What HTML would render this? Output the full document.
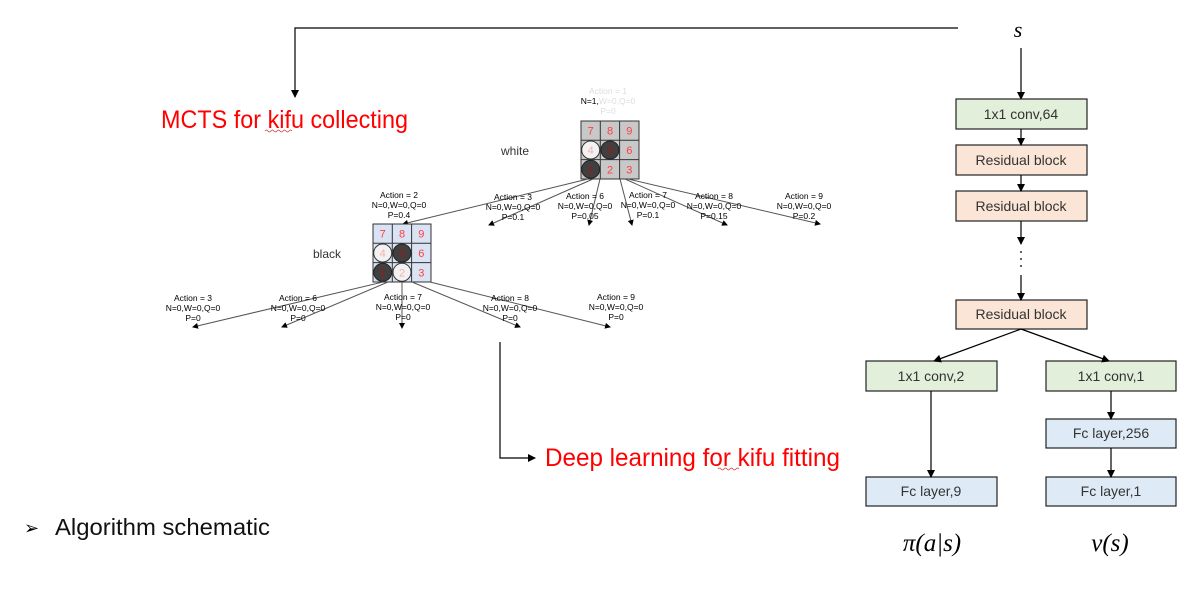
<!DOCTYPE html>
<html><head><meta charset="utf-8"><style>
html,body{margin:0;padding:0;background:#fff;}
svg{display:block;font-family:"Liberation Sans",sans-serif;}
</style></head><body>
<svg width="1201" height="597" viewBox="0 0 1201 597" xmlns="http://www.w3.org/2000/svg">
<defs>
<marker id="a" markerWidth="8" markerHeight="8" refX="7" refY="4" orient="auto" markerUnits="userSpaceOnUse"><path d="M0,0 L8,4 L0,8 z" fill="#000"/></marker>
<marker id="s" markerWidth="6" markerHeight="6" refX="5" refY="3" orient="auto" markerUnits="userSpaceOnUse"><path d="M0,0 L6,3 L0,6 z" fill="#000"/></marker>
</defs>

<polyline points="958,28 295,28 295,97" fill="none" stroke="#000" stroke-width="1.2" marker-end="url(#a)"/>
<text x="1018" y="37" font-family="Liberation Serif,serif" font-style="italic" font-size="22" text-anchor="middle">s</text>
<line x1="1021" y1="48" x2="1021" y2="99" stroke="#000" stroke-width="1.2" marker-end="url(#a)"/>

<text x="161" y="128" fill="#ff0000" font-size="25" textLength="247" lengthAdjust="spacingAndGlyphs">MCTS for kifu collecting</text>
<path d="M265,131 q1.5,-2 3,0 t3,0 t3,0 t3,0 t3,0 t3,0 t3,0 t3,0 t3,0" fill="none" stroke="#e04040" stroke-width="0.8"/>

<g transform="translate(581,121)">
<rect x="0" y="0" width="58" height="58" fill="#c8c8c8" stroke="#333"/>
<path d="M19.3,0V58M38.6,0V58M0,19.3H58M0,38.6H58" stroke="#333" stroke-width="1"/>
<circle cx="9.7" cy="29" r="9" fill="#f2f2f2" stroke="#333"/>
<circle cx="29" cy="29" r="9" fill="#404040" stroke="#222"/>
<circle cx="9.7" cy="48.3" r="9" fill="#404040" stroke="#222"/>
<g font-size="11" text-anchor="middle" fill="#ff4040">
<text x="9.7" y="13.5">7</text><text x="29" y="13.5">8</text><text x="48.3" y="13.5">9</text>
<text x="9.7" y="33" fill="#f6b0b0">4</text><text x="29" y="33" fill="#9a1a1a">5</text><text x="48.3" y="33">6</text>
<text x="9.7" y="52.5" fill="#9a1a1a">1</text><text x="29" y="52.5">2</text><text x="48.3" y="52.5">3</text>
</g>
</g>
<text x="501" y="155" font-size="12" fill="#333">white</text>
<g font-size="8.5" text-anchor="middle" fill="#000">
<text x="608" y="94" fill="#ddd">Action = 1</text>
<text x="608" y="104"><tspan>N=1,</tspan><tspan fill="#ddd">W=0,Q=0</tspan></text>
<text x="608" y="114" fill="#ddd">P=0</text>
</g>

<g stroke="#555" stroke-width="1" marker-end="url(#s)">
<line x1="588" y1="179" x2="403" y2="224"/>
<line x1="593" y1="179" x2="489" y2="225"/>
<line x1="600" y1="179" x2="589" y2="225"/>
<line x1="620" y1="179" x2="632" y2="225"/>
<line x1="625" y1="179" x2="727" y2="225"/>
<line x1="628" y1="179" x2="820" y2="224"/>
</g>
<g font-size="8.5" text-anchor="middle" fill="#000">
<text x="399" y="198">Action = 2</text><text x="399" y="208">N=0,W=0,Q=0</text><text x="399" y="218">P=0.4</text>
<text x="513" y="200">Action = 3</text><text x="513" y="210">N=0,W=0,Q=0</text><text x="513" y="220">P=0.1</text>
<text x="585" y="199">Action = 6</text><text x="585" y="209">N=0,W=0,Q=0</text><text x="585" y="219">P=0.05</text>
<text x="648" y="198">Action = 7</text><text x="648" y="208">N=0,W=0,Q=0</text><text x="648" y="218">P=0.1</text>
<text x="714" y="199">Action = 8</text><text x="714" y="209">N=0,W=0,Q=0</text><text x="714" y="219">P=0.15</text>
<text x="804" y="199">Action = 9</text><text x="804" y="209">N=0,W=0,Q=0</text><text x="804" y="219">P=0.2</text>
</g>

<g transform="translate(373,224)">
<rect x="0" y="0" width="58" height="58" fill="#dae3f3" stroke="#333"/>
<path d="M19.3,0V58M38.6,0V58M0,19.3H58M0,38.6H58" stroke="#333" stroke-width="1"/>
<circle cx="9.7" cy="29" r="9" fill="#f2f2f2" stroke="#333"/>
<circle cx="29" cy="29" r="9" fill="#404040" stroke="#222"/>
<circle cx="9.7" cy="48.3" r="9" fill="#404040" stroke="#222"/>
<circle cx="29" cy="48.3" r="9" fill="#f2f2f2" stroke="#333"/>
<g font-size="11" text-anchor="middle" fill="#ff4040">
<text x="9.7" y="13.5">7</text><text x="29" y="13.5">8</text><text x="48.3" y="13.5">9</text>
<text x="9.7" y="33" fill="#f6b0b0">4</text><text x="29" y="33" fill="#9a1a1a">5</text><text x="48.3" y="33">6</text>
<text x="9.7" y="52.5" fill="#9a1a1a">1</text><text x="29" y="52.5" fill="#f6b0b0">2</text><text x="48.3" y="52.5">3</text>
</g>
</g>
<text x="313" y="258" font-size="12" fill="#333">black</text>

<g stroke="#555" stroke-width="1" marker-end="url(#s)">
<line x1="383" y1="282" x2="193" y2="327"/>
<line x1="388" y1="282" x2="282" y2="327"/>
<line x1="402" y1="282" x2="402" y2="328"/>
<line x1="412" y1="282" x2="520" y2="327"/>
<line x1="430" y1="282" x2="610" y2="327"/>
</g>
<g font-size="8.5" text-anchor="middle" fill="#000">
<text x="193" y="301">Action = 3</text><text x="193" y="311">N=0,W=0,Q=0</text><text x="193" y="321">P=0</text>
<text x="298" y="301">Action = 6</text><text x="298" y="311">N=0,W=0,Q=0</text><text x="298" y="321">P=0</text>
<text x="403" y="300">Action = 7</text><text x="403" y="310">N=0,W=0,Q=0</text><text x="403" y="320">P=0</text>
<text x="510" y="301">Action = 8</text><text x="510" y="311">N=0,W=0,Q=0</text><text x="510" y="321">P=0</text>
<text x="616" y="300">Action = 9</text><text x="616" y="310">N=0,W=0,Q=0</text><text x="616" y="320">P=0</text>
</g>

<polyline points="500,342 500,458 535,458" fill="none" stroke="#000" stroke-width="1.2" marker-end="url(#a)"/>
<text x="545" y="466" fill="#ff0000" font-size="25" textLength="295" lengthAdjust="spacingAndGlyphs">Deep learning for kifu fitting</text>
<path d="M718,469 q1.5,-2 3,0 t3,0 t3,0 t3,0 t3,0 t3,0 t3,0" fill="none" stroke="#e04040" stroke-width="0.8"/>

<text x="24" y="534" font-size="18">➢</text>
<text x="55" y="535" font-size="23" fill="#111" textLength="215" lengthAdjust="spacingAndGlyphs">Algorithm schematic</text>

<g stroke="#222" stroke-width="1.2">
<rect x="956" y="99" width="131" height="30" fill="#e2efda"/>
<rect x="956" y="145" width="131" height="30" fill="#fbe5d6"/>
<rect x="956" y="191" width="131" height="30" fill="#fbe5d6"/>
<rect x="956" y="300" width="131" height="29" fill="#fbe5d6"/>
<rect x="866" y="361" width="131" height="30" fill="#e2efda"/>
<rect x="1046" y="361" width="130" height="30" fill="#e2efda"/>
<rect x="1046" y="419" width="130" height="29" fill="#deebf7"/>
<rect x="866" y="477" width="131" height="29" fill="#deebf7"/>
<rect x="1046" y="477" width="130" height="29" fill="#deebf7"/>
</g>
<g font-size="14" fill="#333" text-anchor="middle">
<text x="1021" y="119">1x1 conv,64</text>
<text x="1021" y="165">Residual block</text>
<text x="1021" y="211">Residual block</text>
<text x="1021" y="319">Residual block</text>
<text x="931" y="381">1x1 conv,2</text>
<text x="1111" y="381">1x1 conv,1</text>
<text x="1111" y="438">Fc layer,256</text>
<text x="931" y="496">Fc layer,9</text>
<text x="1111" y="496">Fc layer,1</text>
</g>
<g stroke="#000" stroke-width="1.2" marker-end="url(#a)">
<line x1="1021" y1="129" x2="1021" y2="145"/>
<line x1="1021" y1="175" x2="1021" y2="191"/>
<line x1="1021" y1="221" x2="1021" y2="244"/>
<line x1="1021" y1="275" x2="1021" y2="300"/>
<line x1="1021" y1="329" x2="934" y2="361"/>
<line x1="1021" y1="329" x2="1109" y2="361"/>
<line x1="931" y1="391" x2="931" y2="477"/>
<line x1="1111" y1="391" x2="1111" y2="419"/>
<line x1="1111" y1="448" x2="1111" y2="477"/>
</g>
<g fill="#333"><circle cx="1021" cy="252" r="1"/><circle cx="1021" cy="259" r="1"/><circle cx="1021" cy="266" r="1"/></g>
<text x="932" y="551" font-family="Liberation Serif,serif" font-style="italic" font-size="25" text-anchor="middle">π(a|s)</text>
<text x="1110" y="551" font-family="Liberation Serif,serif" font-style="italic" font-size="25" text-anchor="middle">v(s)</text>
</svg>
</body></html>
